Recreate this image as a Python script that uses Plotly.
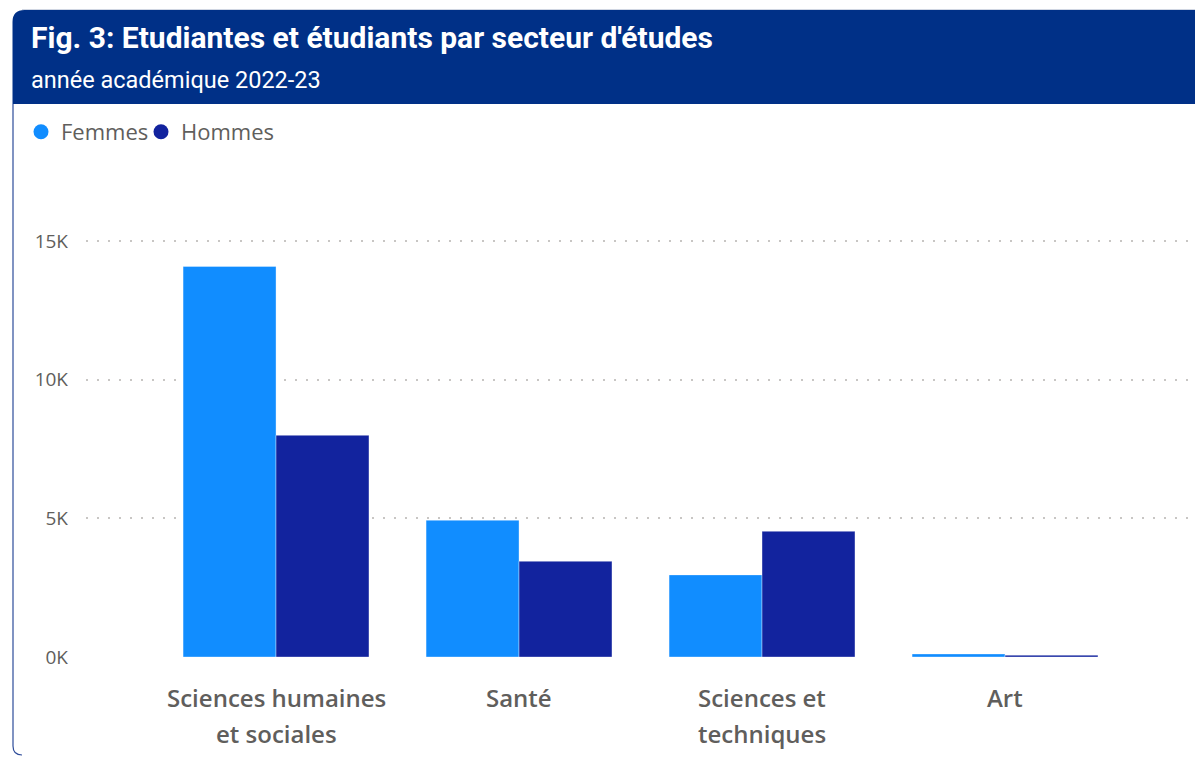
import plotly.graph_objects as go

categories = ["Sciences humaines et sociales", "Santé", "Sciences et techniques", "Art"]
category_lines = [["Sciences humaines", "et sociales"], ["Santé"], ["Sciences et", "techniques"], ["Art"]]
femmes = [14080, 4930, 2960, 110]
hommes = [7990, 3450, 4530, 65]
y_tickvals = [0, 5000, 10000, 15000]
y_ticktext = ["0K", "5K", "10K", "15K"]

C_F = "#118DFF"
C_H = "#12239E"
C_BAR = "#003087"
GRAY = "#605E5C"

# page has an 8px body margin: figure occupies page pixels 8..1203 / 8..758
OFF = 8
W, H = 1203 - OFF, 758 - OFF
ML, MR, MT, MB = 78, 6, 192, 101


def px_x(page_px):
    return (page_px - OFF - ML) / (W - ML - MR)


def px_y(page_py):
    return (H - MB - (page_py - OFF)) / (H - MT - MB)


fig = go.Figure()
xs = list(range(len(categories)))
bar_line = dict(color="rgba(255,255,255,0.35)", width=1)
fig.add_trace(go.Bar(x=xs, y=femmes, name="Femmes", marker=dict(color=C_F, line=bar_line),
                     legend="legend", hovertext=categories,
                     showlegend=False))
fig.add_trace(go.Bar(x=xs, y=hommes, name="Hommes", marker=dict(color=C_H, line=bar_line),
                     legend="legend2", hovertext=categories,
                     showlegend=False))
# legend entries with circle markers (Power BI style)
fig.add_trace(go.Scatter(x=[None], y=[None], mode="markers", name="Femmes", legend="legend",
                         marker=dict(symbol="circle", size=15, color=C_F)))
fig.add_trace(go.Scatter(x=[None], y=[None], mode="markers", name="Hommes", legend="legend2",
                         marker=dict(symbol="circle", size=15, color=C_H)))

legend_font = dict(size=22, color=GRAY, family="Open Sans, sans-serif")
fig.update_layout(
    width=W, height=H,
    margin=dict(l=ML, r=MR, t=MT, b=MB),
    paper_bgcolor="white", plot_bgcolor="white",
    barmode="group", bargap=0.235, bargroupgap=0,
    font=dict(family="Open Sans, sans-serif", color=GRAY),
    showlegend=True,
    legend=dict(orientation="h", xref="container", yref="container",
                x=(21 - OFF) / W, xanchor="left", y=1 - (132 - OFF) / H, yanchor="middle",
                font=legend_font, itemwidth=30, bgcolor="rgba(0,0,0,0)"),
    legend2=dict(orientation="h", xref="container", yref="container",
                 x=(141 - OFF) / W, xanchor="left", y=1 - (132 - OFF) / H, yanchor="middle",
                 font=legend_font, itemwidth=30, bgcolor="rgba(0,0,0,0)"),
    xaxis=dict(range=[-0.782, 3.790], showticklabels=False, showgrid=False, zeroline=False,
               showline=False, ticks=""),
    yaxis=dict(range=[0, 16475], tickvals=y_tickvals, ticktext=y_ticktext,
               showgrid=True, gridcolor="#C8C6C4", griddash="2px,9px", gridwidth=1.5,
               zeroline=False, showline=False, ticks="",
               tickfont=dict(size=19, color=GRAY, family="Open Sans, sans-serif"),
               ticklabelstandoff=17),
)

# thin light line above the title band
fig.add_shape(type="line", xref="paper", yref="paper",
              x0=px_x(22), x1=px_x(1215), y0=px_y(9.5), y1=px_y(9.5),
              line=dict(color="#D0D6E2", width=1), layer="below")
# title band with rounded top-left corner
r = 12
x0, y0, x1, y1 = 12.5, 10, 1215, 104
band = (f"M {px_x(x0)} {px_y(y1)} L {px_x(x0)} {px_y(y0 + r)} "
        f"Q {px_x(x0)} {px_y(y0)} {px_x(x0 + r)} {px_y(y0)} "
        f"L {px_x(x1)} {px_y(y0)} L {px_x(x1)} {px_y(y1)} Z")
fig.add_shape(type="path", xref="paper", yref="paper", path=band,
              fillcolor=C_BAR, line=dict(width=0), layer="below")
# card left border
border = (f"M {px_x(13)} {px_y(104)} L {px_x(13)} {px_y(746)} "
          f"Q {px_x(13)} {px_y(755)} {px_x(22)} {px_y(755)}")
fig.add_shape(type="path", xref="paper", yref="paper", path=border,
              line=dict(color="#2E4C9A", width=1.2))

fig.add_annotation(text="<b>Fig. 3: Etudiantes et étudiants par secteur d'études</b>",
                   xref="paper", yref="paper", x=px_x(28.5), y=px_y(37.5), xanchor="left", yanchor="middle",
                   showarrow=False, font=dict(size=30, color="white", family="Roboto, sans-serif"))
fig.add_annotation(text="année académique 2022-23",
                   xref="paper", yref="paper", x=px_x(28.5), y=px_y(80), xanchor="left", yanchor="middle",
                   showarrow=False, font=dict(size=23.5, color="white", family="Roboto, sans-serif"))

# category labels (two-line, Power BI spacing)
for i, lines in enumerate(category_lines):
    for j, line in enumerate(lines):
        fig.add_annotation(text=line, x=xs[i], xref="x", yref="paper",
                           y=px_y(697 + 36 * j), yanchor="middle", xanchor="center",
                           showarrow=False,
                           font=dict(size=24, color=GRAY, family="Open Sans, sans-serif", weight=600))

fig.write_html("out.html")
